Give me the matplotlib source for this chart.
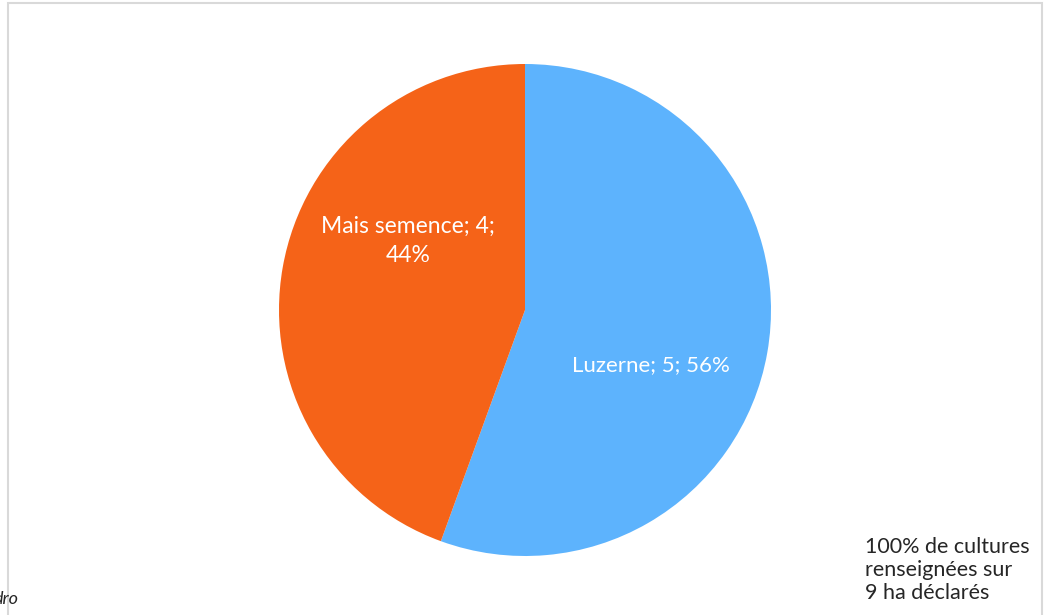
import matplotlib.pyplot as plt
from matplotlib.patches import Rectangle

cultures = ['Luzerne', 'Mais semence']
surfaces = [5, 4]
couleurs = ['#5DB3FD', '#F56318']
note = "100% de cultures\nrenseignées sur\n9 ha déclarés"

plt.rcParams['font.family'] = ['Lato', 'DejaVu Sans']

W, H = 1053, 615
fig = plt.figure(figsize=(W / 100, H / 100), dpi=100)

# chart border (light grey frame, bottom edge cut off)
fig.add_artist(Rectangle((7.5 / W, -0.05), (1042 - 7.5) / W, 1.05 - 3.5 / H,
                         transform=fig.transFigure, fill=False,
                         edgecolor='#D9D9D9', linewidth=1.5))

cx, cy, r = 525, 310, 246
ax = fig.add_axes([(cx - r) / W, 1 - (cy + r) / H, 2 * r / W, 2 * r / H])
ax.pie(surfaces, colors=couleurs, startangle=90, counterclock=False,
       wedgeprops=dict(linewidth=0))
ax.set_xlim(-1, 1)
ax.set_ylim(-1, 1)
ax.set_aspect('equal')
ax.axis('off')

total = sum(surfaces)
pct = [round(100 * s / total) for s in surfaces]
ax.text(0.512, -0.224, f"{cultures[0]}; {surfaces[0]}; {pct[0]}%",
        color='white', fontsize=16, ha='center', va='center')
ax.text(-0.476, 0.28, f"{cultures[1]}; {surfaces[1]};\n{pct[1]}%",
        color='white', fontsize=16.5, ha='center', va='center', linespacing=1.45)

fig.text(865 / W, 1 - 537 / H, note, fontsize=15.5, ha='left', va='top',
         color='#262626', linespacing=1.2)
fig.text(-0.006, 1 - 599 / H, "dro", fontsize=13, style='italic', ha='left',
         va='center', color='#262626')

fig.savefig('out.png', dpi=100)
